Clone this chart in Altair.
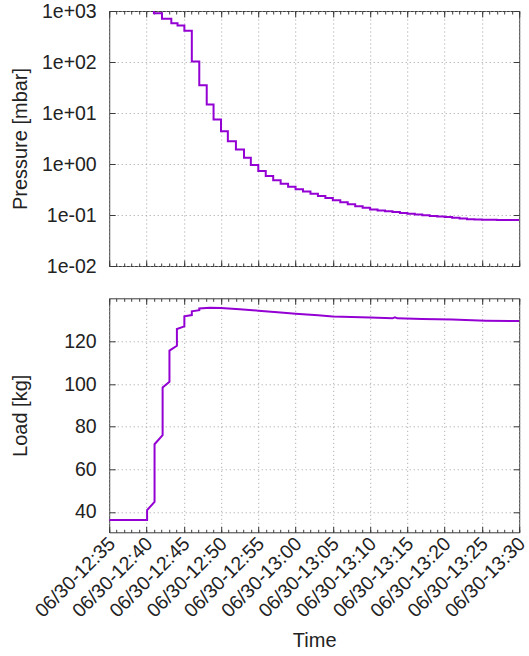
import altair as alt
import pandas as pd

DAY = "2021-06-30"

# Pressure [mbar], one value per logging step;
# the trace enters the plot from above 1e+03 at 12:41
p_times = ["12:41:00", "12:41:00", "12:42:05", "12:43:20", "12:44:10", "12:45:05",
           "12:46:05", "12:47:05", "12:48:05", "12:49:00", "12:50:00", "12:50:55",
           "12:52:00", "12:53:05", "12:54:00", "12:55:00", "12:56:00", "12:57:00",
           "12:58:00", "12:59:00", "13:00:00", "13:01:00", "13:02:00", "13:03:00",
           "13:04:00", "13:05:00", "13:06:00", "13:07:00", "13:08:00", "13:09:00",
           "13:10:00", "13:11:00", "13:12:00", "13:13:00", "13:14:00", "13:15:00",
           "13:16:00", "13:17:00", "13:18:00", "13:19:00", "13:20:00", "13:21:00",
           "13:22:00", "13:23:00", "13:24:00", "13:25:00", "13:26:00", "13:27:00",
           "13:28:00", "13:29:00", "13:30:00"]
p_values = [1013, 900, 705, 576, 519, 410,
            102, 35, 14.7, 7.45, 4.4, 2.8,
            1.92, 1.32, 0.96, 0.73, 0.58, 0.48,
            0.41, 0.36, 0.32, 0.29, 0.26, 0.235,
            0.215, 0.195, 0.177, 0.162, 0.149, 0.138,
            0.128, 0.122, 0.118, 0.114, 0.110, 0.106,
            0.102, 0.099, 0.096, 0.093, 0.091, 0.088,
            0.085, 0.083, 0.082, 0.081, 0.081, 0.080,
            0.080, 0.080, 0.080]

# Load [kg], vertices of the trace
l_times = ["12:35:00", "12:40:05", "12:40:05", "12:41:05", "12:41:05", "12:42:10",
           "12:42:10", "12:43:05", "12:43:05", "12:44:05", "12:44:05", "12:45:05",
           "12:45:05", "12:46:05", "12:46:05", "12:47:05", "12:47:05", "12:48:30",
           "12:50:00", "12:52:30", "12:55:00", "12:58:00", "13:00:00", "13:03:00",
           "13:05:00", "13:10:00", "13:13:00", "13:13:20", "13:13:40", "13:17:00",
           "13:21:00", "13:25:30", "13:30:00"]
l_values = [36.2, 36.2, 40.8, 44.7, 71.8, 76.1,
            98.5, 101.2, 115.8, 118.1, 126.0, 127.2,
            131.9, 132.5, 134.3, 134.8, 135.6, 135.9,
            135.8, 135.2, 134.6, 133.7, 133.1, 132.4,
            131.9, 131.4, 131.0, 131.5, 131.0, 130.7,
            130.4, 129.9, 129.7]

p_ticks = [0.01, 0.1, 1, 10, 100, 1000]
l_ticks = [40, 60, 80, 100, 120]
# x tick positions in minutes after 12:00 (major every 5 min, minor every minute)
x_major_min = [35, 40, 45, 50, 55, 60, 65, 70, 75, 80, 85, 90]
x_minor_min = list(range(35, 91))

df_p = pd.DataFrame({"t": [DAY + "T" + s for s in p_times], "v": p_values,
                     "i": range(len(p_values))})
df_l = pd.DataFrame({"t": [DAY + "T" + s for s in l_times], "v": l_values,
                     "i": range(len(l_values))})


def dt(m):
    return alt.DateTime(year=2021, month=6, date=30, hours=12 + m // 60, minutes=m % 60)


x_major = [dt(m) for m in x_major_min]
x_minor = [dt(m) for m in x_minor_min]

FONT = "Liberation Sans"
LFS = 19.5
TFS = 20
W = 410
H1 = 255
H2 = 234
FRAME = "#3a3a3a"
GRID = "#a0a0a0"
LINE = "#9400d3"
TXT = "#222222"

xscale = alt.Scale(domain=[dt(35), dt(90)])


def tick_axis(orient, offset, values, size=6):
    return alt.Axis(orient=orient, offset=offset, tickSize=size, tickColor=FRAME,
                    tickWidth=1, labels=False, domain=False, grid=False, title=None,
                    values=values)


def panel(df, yscale, yvalues, H, ytitle, ylabel_expr, ytitle_pad, xlabels, interp):
    base = alt.Chart(df)
    if xlabels:
        xax = alt.Axis(values=x_major, format="%m/%d-%H:%M", labelAngle=-45,
                       labelAlign="right", labelBaseline="middle", labelOverlap=False,
                       labelFlush=False, ticks=False, tickSize=0, labelPadding=8,
                       labelOffset=2.5, domain=False, grid=True, title="Time",
                       titlePadding=10)
    else:
        xax = alt.Axis(values=x_major, labels=False, ticks=False, domain=False,
                       grid=True, title=None)
    yax_kw = dict(values=yvalues, ticks=False, tickSize=0, labelPadding=13,
                  domain=False, grid=True, title=ytitle, titlePadding=ytitle_pad)
    if ylabel_expr:
        yax_kw["labelExpr"] = ylabel_expr
    yax = alt.Axis(**yax_kw)

    line = base.mark_line(color=LINE, strokeWidth=2, clip=True,
                          interpolate=interp).encode(
        x=alt.X("t:T", scale=xscale, axis=xax),
        y=alt.Y("v:Q", scale=yscale, axis=yax),
        order="i:Q")

    # invisible layers that only carry the inward-pointing tick marks
    ghost_specs = [
        (tick_axis("top", -H, x_major, 6), tick_axis("right", -W, yvalues, 6)),
        (tick_axis("top", -H, x_minor, 3), tick_axis("left", -W, yvalues, 6)),
        (tick_axis("bottom", -H, x_major, 6), None),
        (tick_axis("bottom", -H, x_minor, 3), None),
    ]
    layers = []
    for xa, ya in ghost_specs:
        layers.append(base.mark_line(opacity=0, clip=True).encode(
            x=alt.X("t:T", scale=xscale, axis=xa),
            y=alt.Y("v:Q", scale=yscale, axis=ya)))
    return alt.layer(*layers, line).resolve_axis(x="independent", y="independent").properties(
        width=W, height=H)


p_expr = ("'1e' + (datum.value >= 1 ? '+' : '-') + "
          "(abs(round(log(datum.value)/LN10)) < 10 ? '0' : '') + "
          "abs(round(log(datum.value)/LN10))")

top = panel(df_p, alt.Scale(type="log", domain=[0.01, 1000], nice=False), p_ticks, H1,
            "Pressure [mbar]", p_expr, 10.8, False, "step-after")
bottom = panel(df_l, alt.Scale(domain=[30.4, 140.4], nice=False, zero=False), l_ticks, H2,
               "Load [kg]", None, 33.1, True, "linear")

chart = alt.vconcat(top, bottom, spacing=21.3).properties(
    padding={"left": 9.2, "top": 0, "right": -1, "bottom": 0},
    background="white"
).configure_view(stroke=FRAME, strokeWidth=1).configure_axis(
    labelFont=FONT, labelFontSize=LFS, titleFont=FONT, titleFontSize=TFS,
    titleFontWeight="normal", labelColor=TXT, titleColor=TXT,
    gridColor=GRID, gridDash=[1, 3], gridWidth=1, gridOpacity=1)

chart.save("out.html", embed_options={"renderer": "svg", "actions": False})
